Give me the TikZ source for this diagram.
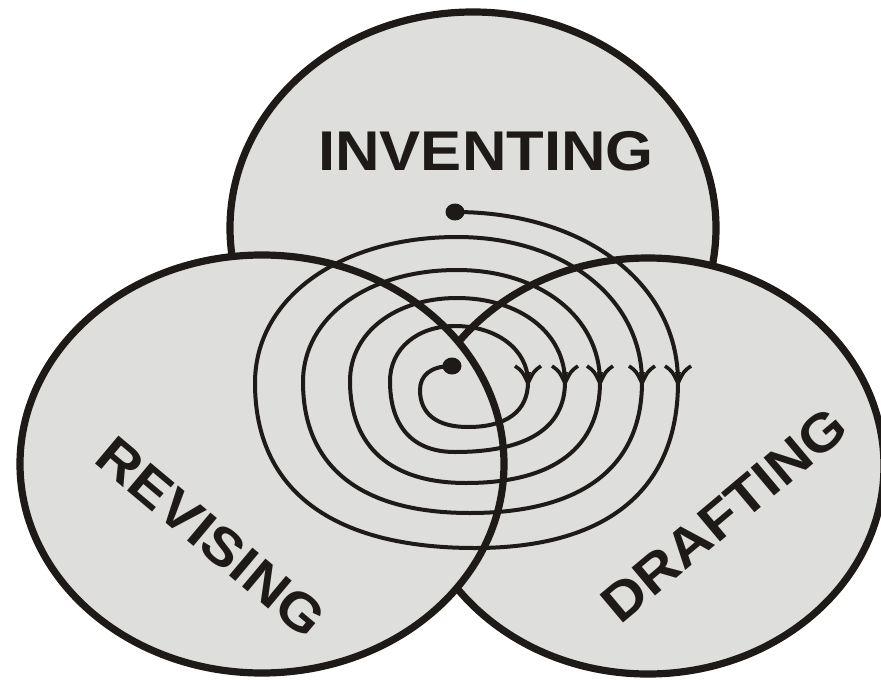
\documentclass[tikz,border=0pt]{standalone}
\usepackage{fontspec}
\newfontfamily\lblfont[FakeStretch=1.1]{Liberation Sans Bold}
\definecolor{ink}{RGB}{30,26,23}
\definecolor{shade}{RGB}{222,222,220}
\begin{document}
\begin{tikzpicture}[x=1pt,y=-1pt,
  disc/.style={fill=shade,draw=ink,line width=7.2pt},
  spiralline/.style={draw=ink,line width=4pt},
  barbline/.style={draw=ink,line width=3.6pt,line cap=butt},
  dotmark/.style={fill=ink},
  label/.style={font=\lblfont\fontsize{56}{60}\selectfont, text=ink, inner sep=0pt},
  sidelabel/.style={font=\lblfont\fontsize{53}{56}\selectfont, text=ink, inner sep=0pt}]
\useasboundingbox (0,0) rectangle (881,680);
\clip (0,0) rectangle (881,680);
\fill[white] (0,0) rectangle (881,680);
% three discs: top, right, left (left on top)
\draw[disc] (473,228) ellipse [x radius=243pt, y radius=216pt];
\draw[disc] (648,466) ellipse [x radius=236pt, y radius=208pt];
\draw[disc] (262,464) ellipse [x radius=242pt, y radius=209pt];
% spiral
\draw[spiralline]
  (455,212) .. controls (584,212) and (678,283) .. (678,382)
  .. controls (678,490) and (607,548) .. (475,548)
  .. controls (332,548) and (255,490) .. (255,383)
  .. controls (255,298) and (340,237) .. (457,237)
  .. controls (564,237) and (642,298) .. (642,382)
  .. controls (642,467) and (582,513) .. (470,513)
  .. controls (361,513) and (303,467) .. (303,382)
  .. controls (303,317) and (368,270) .. (457,270)
  .. controls (540,270) and (600,317) .. (600,382)
  .. controls (600,448) and (553,483) .. (466,483)
  .. controls (391,483) and (350,447) .. (350,381)
  .. controls (350,333) and (395,298) .. (457,298)
  .. controls (520,298) and (565,333) .. (565,382)
  .. controls (565,428) and (527,452) .. (455,452)
  .. controls (413,452) and (390,427) .. (390,381)
  .. controls (390,349) and (417,326) .. (455,326)
  .. controls (497,326) and (528,350) .. (528,382)
  .. controls (528,411) and (507,427) .. (468,427)
  .. controls (437,427) and (420,414) .. (420,390)
  .. controls (420,376) and (430,366) .. (452,366);
% arrowheads (open barbs with a filled tip)
\foreach \ax in {678,642,600,565,528}{
  \draw[barbline]
     (\ax-13,366) .. controls (\ax-6,371) .. (\ax,383)
     .. controls (\ax+6,371) .. (\ax+13,366);
  \fill[ink] (\ax-3,372) -- (\ax,386) -- (\ax+3,372) -- cycle;
}
% dots
\fill[dotmark] (455,212) ellipse [x radius=9.5pt, y radius=8.5pt];
\fill[dotmark] (452,366) ellipse [x radius=9.5pt, y radius=8.5pt];
% labels
\node[label, anchor=base] (inv) at (486,170) {INVENTING};
\node[sidelabel, rotate=-40] (rev) at (211,537) {REVISING};
\node[sidelabel, rotate=40] (dra) at (724,515) {DRAFTING};
\end{tikzpicture}
\end{document}
